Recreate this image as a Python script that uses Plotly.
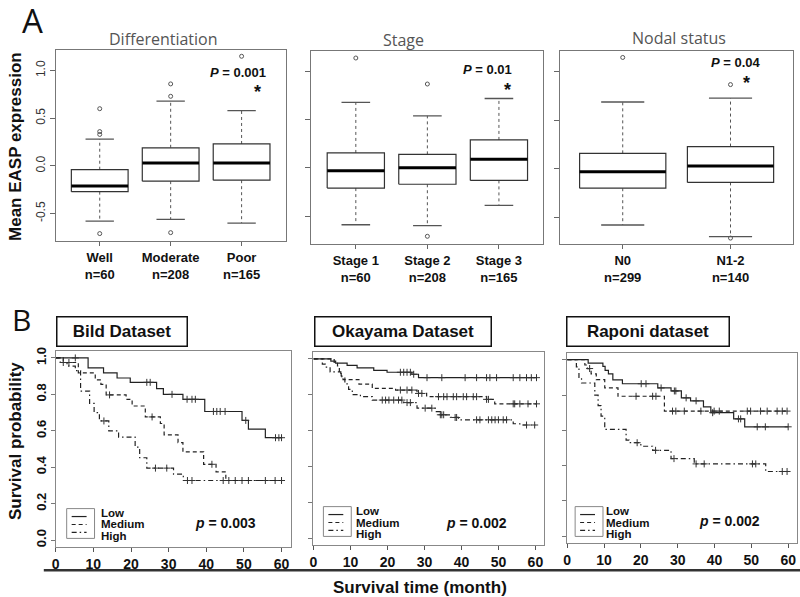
import plotly.graph_objects as go

W, H = 800, 597


def px(x):
    return x / W


def py(y):
    return 1 - y / H


# ---------------- Panel A data (box plot statistics) ----------------
diff_cats = ["Well", "Moderate", "Poor"]
diff_n = [60, 208, 165]
diff_lo = [-0.58, -0.56, -0.60]
diff_q1 = [-0.27, -0.16, -0.15]
diff_med = [-0.21, 0.03, 0.03]
diff_q3 = [-0.04, 0.19, 0.23]
diff_hi = [0.28, 0.68, 0.58]
diff_out = [[0.60, 0.36, 0.33, -0.71], [0.86, 0.73, -0.70], [1.15]]

stage_cats = ["Stage 1", "Stage 2", "Stage 3"]
stage_n = [60, 208, 165]
stage_lo = [-0.59, -0.60, -0.39]
stage_q1 = [-0.21, -0.17, -0.13]
stage_med = [-0.03, 0.00, 0.09]
stage_q3 = [0.155, 0.14, 0.29]
stage_hi = [0.68, 0.54, 0.72]
stage_out = [[1.14], [0.87, -0.71], []]

nodal_cats = ["N0", "N1-2"]
nodal_n = [299, 140]
nodal_lo = [-0.58, -0.70]
nodal_q1 = [-0.20, -0.14]
nodal_med = [-0.03, 0.03]
nodal_q3 = [0.16, 0.23]
nodal_hi = [0.69, 0.73]
nodal_out = [[1.15], [0.87, -0.715]]

a_yticks = [-0.5, 0.0, 0.5, 1.0]
a_yticktext = ["-0.5", "0.0", "0.5", "1.0"]

# ---------------- Panel B data (Kaplan-Meier steps) ----------------
bild_low_t = [0, 8.6, 12.7, 16.3, 19.8, 26.8, 28.6, 33.8, 39.6, 49.5, 51.2, 55.7]
bild_low_s = [1.0, 0.945, 0.918, 0.89, 0.866, 0.832, 0.80, 0.773, 0.706, 0.657, 0.609, 0.562]
bild_low_c = [5.2, 24.2, 25.1, 30.9, 34.9, 36.2, 37.1, 41.9, 42.8, 43.7, 45.0, 50.5, 58.4, 59.3, 60.0]

bild_med_t = [0, 2.0, 6.0, 10.5, 12.0, 13.4, 18.7, 20.3, 23.8, 27.8, 28.8, 32.5, 33.8, 39.3, 42.6, 45.2]
bild_med_s = [1.0, 0.975, 0.918, 0.88, 0.855, 0.797, 0.773, 0.736, 0.676, 0.64, 0.578, 0.535, 0.484, 0.416, 0.374, 0.327]
bild_med_c = [3.5, 14.3, 25.6, 41.5, 46.0, 47.7, 49.5, 51.2, 55.7, 58.3, 60.0]

bild_high_t = [0, 1.2, 3.0, 5.2, 6.6, 9.0, 10.2, 11.6, 14.1, 16.7, 21.1, 22.3, 24.2, 31.3, 33.9]
bild_high_s = [1.0, 0.975, 0.955, 0.93, 0.818, 0.75, 0.70, 0.654, 0.60, 0.565, 0.51, 0.452, 0.395, 0.362, 0.327]
bild_high_c = [2.0, 12.8, 26.5, 29.5, 35.0, 36.2, 44.5]

oka_low_t = [0, 4.7, 6.0, 9.1, 11.8, 16.3, 19.9, 26.6, 28.4]
oka_low_s = [1.0, 0.987, 0.976, 0.963, 0.95, 0.936, 0.925, 0.914, 0.895]
oka_low_c = [23.5, 24.4, 25.3, 26.2, 27.1, 30.7, 34.7, 41.0, 44.1, 46.8, 47.7, 49.5,
             54.0, 55.8, 57.6, 58.9, 60.3]

oka_med_t = [0, 5.6, 6.5, 7.0, 7.5, 8.0, 12.3, 15.9, 22.2, 28.0, 30.6, 46.8, 49.0]
oka_med_s = [1.0, 0.98, 0.96, 0.93, 0.905, 0.884, 0.859, 0.835, 0.826, 0.807, 0.789, 0.774, 0.749]
oka_med_c = [23.5, 25.3, 26.6, 28.4, 29.3, 33.8, 35.2, 36.1, 37.8, 38.7, 40.5, 41.4, 43.2,
             44.1, 46.8, 47.3, 54.0, 54.4, 55.8, 58.0, 60.3]

oka_high_t = [0, 2.4, 3.2, 4.5, 7.4, 8.5, 9.5, 10.5, 12.7, 15.9, 24.4, 28.0, 32.9, 34.3, 37.0, 39.2, 54.0, 55.8]
oka_high_s = [1.0, 0.97, 0.954, 0.927, 0.90, 0.86, 0.83, 0.80, 0.789, 0.77, 0.756, 0.725, 0.706,
              0.688, 0.673, 0.66, 0.638, 0.631]
oka_high_c = [18.6, 19.5, 20.4, 21.7, 23.0, 23.9, 25.3, 26.2, 30.2, 32.0, 34.3, 34.7, 35.2, 38.3,
              38.7, 44.1, 45.0, 47.3, 48.2, 49.1, 50.0, 51.3, 52.2, 57.6, 59.8]

rap_low_t = [0, 5.7, 9.7, 10.3, 11.2, 12.4, 15.0, 24.6, 28.2, 31.0, 33.5, 37.0, 39.0, 45.2, 48.2]
rap_low_s = [1.0, 0.981, 0.962, 0.94, 0.92, 0.886, 0.864, 0.84, 0.823, 0.784, 0.767, 0.733, 0.70, 0.665, 0.62]
rap_low_c = [20.1, 21.4, 25.5, 29.1, 29.5, 32.3, 35.0, 39.5, 46.5, 47.1, 51.6, 53.8, 60.0]

rap_med_t = [0, 4.8, 5.5, 6.5, 7.9, 10.2, 13.8, 26.4]
rap_med_s = [1.0, 0.97, 0.95, 0.92, 0.887, 0.84, 0.793, 0.709]
rap_med_c = [6.1, 18.7, 23.2, 24.1, 28.6, 29.5, 31.8, 36.3, 39.9, 41.3, 48.9, 49.8, 52.5,
             54.3, 57.0, 58.4, 59.7]

rap_high_t = [0, 2.5, 3.2, 3.9, 7.5, 8.4, 9.2, 10.2, 16.0, 16.8, 20.0, 23.2, 28.2, 34.5, 53.9]
rap_high_s = [1.0, 0.96, 0.90, 0.868, 0.80, 0.74, 0.68, 0.605, 0.545, 0.53, 0.51, 0.487, 0.44, 0.41, 0.367]
rap_high_c = [19.0, 24.0, 29.0, 35.0, 37.2, 50.3, 51.2, 58.4, 59.7]

b_xticks = [0, 10, 20, 30, 40, 50, 60]
b_yticks = [0.0, 0.2, 0.4, 0.6, 0.8, 1.0]
group_names = ["Low", "Medium", "High"]

FONT = "Liberation Sans, Arial, sans-serif"
DASH_MED = "4px,3px"
DASH_HIGH = "5px,3px,1.5px,3px"
dashes = ["solid", DASH_MED, DASH_HIGH]

fig = go.Figure()


def add_boxes(xa, ya, lo, q1, med, q3, hi, outs):
    for i in range(len(q1)):
        x = i + 1
        fig.add_trace(go.Scatter(
            x=[x, x, None, x, x], y=[q3[i], hi[i], None, q1[i], lo[i]], mode="lines",
            line=dict(color="#555", width=1, dash="3px,3px"), xaxis=xa, yaxis=ya,
            showlegend=False, hoverinfo="skip"))
        fig.add_trace(go.Scatter(
            x=[x - 0.2, x + 0.2, None, x - 0.2, x + 0.2], y=[hi[i], hi[i], None, lo[i], lo[i]],
            mode="lines", line=dict(color="#555", width=1.3), xaxis=xa, yaxis=ya,
            showlegend=False, hoverinfo="skip"))
        fig.add_trace(go.Scatter(
            x=[x - 0.4, x + 0.4, x + 0.4, x - 0.4, x - 0.4],
            y=[q1[i], q1[i], q3[i], q3[i], q1[i]], mode="lines", fill="toself",
            fillcolor="white", line=dict(color="#333", width=1.2), xaxis=xa, yaxis=ya,
            showlegend=False, hoverinfo="skip"))
        fig.add_trace(go.Scatter(
            x=[x - 0.4, x + 0.4], y=[med[i], med[i]], mode="lines",
            line=dict(color="black", width=3), xaxis=xa, yaxis=ya,
            showlegend=False, hoverinfo="skip"))
        if outs[i]:
            fig.add_trace(go.Scatter(
                x=[x] * len(outs[i]), y=outs[i], mode="markers",
                marker=dict(symbol="circle-open", size=4, color="#555", line=dict(width=1)),
                xaxis=xa, yaxis=ya, showlegend=False, hoverinfo="skip"))


add_boxes("x", "y", diff_lo, diff_q1, diff_med, diff_q3, diff_hi, diff_out)
add_boxes("x2", "y2", stage_lo, stage_q1, stage_med, stage_q3, stage_hi, stage_out)
add_boxes("x3", "y3", nodal_lo, nodal_q1, nodal_med, nodal_q3, nodal_hi, nodal_out)


def step_at(ts, ss, t):
    v = ss[0]
    for ti, si in zip(ts, ss):
        if ti <= t:
            v = si
    return v


def add_km(xa, ya, ts, ss, cs, dash):
    end = max(60.0, max(cs) if cs else 60.0)
    fig.add_trace(go.Scatter(
        x=list(ts) + [end], y=list(ss) + [ss[-1]], mode="lines",
        line=dict(color="#222", width=1.2, dash=dash, shape="hv"),
        xaxis=xa, yaxis=ya, showlegend=False, hoverinfo="skip"))
    fig.add_trace(go.Scatter(
        x=cs, y=[step_at(ts, ss, c) for c in cs], mode="markers",
        marker=dict(symbol="cross-thin", size=5, color="#333", line=dict(width=1, color="#333")),
        xaxis=xa, yaxis=ya, showlegend=False, hoverinfo="skip"))


km_sets = [
    ("x4", "y4", [(bild_low_t, bild_low_s, bild_low_c), (bild_med_t, bild_med_s, bild_med_c),
                  (bild_high_t, bild_high_s, bild_high_c)]),
    ("x5", "y5", [(oka_low_t, oka_low_s, oka_low_c), (oka_med_t, oka_med_s, oka_med_c),
                  (oka_high_t, oka_high_s, oka_high_c)]),
    ("x6", "y6", [(rap_low_t, rap_low_s, rap_low_c), (rap_med_t, rap_med_s, rap_med_c),
                  (rap_high_t, rap_high_s, rap_high_c)]),
]
for xa, ya, groups in km_sets:
    for (ts, ss, cs), d in zip(groups, dashes):
        add_km(xa, ya, ts, ss, cs, d)

# ---------------- Axes ----------------
frame_a = dict(showline=True, mirror=True, linecolor="#777", linewidth=1,
               showgrid=False, zeroline=False)


def a_xaxis(x0, x1, rng, cats, ns, anchor):
    return dict(domain=[px(x0), px(x1)], range=rng, tickvals=list(range(1, len(cats) + 1)),
                ticktext=[f"<b>{c}</b><br><b>n={n}</b>" for c, n in zip(cats, ns)],
                ticks="outside", ticklen=4, tickcolor="#666",
                tickfont=dict(family=FONT, size=13, color="#111"), anchor=anchor, **frame_a)


def a_yaxis(y0, y1, rng, labels, anchor):
    return dict(domain=[py(y1), py(y0)], range=rng, tickvals=a_yticks, ticktext=a_yticktext,
                showticklabels=labels, tickangle=-90, ticks="outside", ticklen=5,
                tickcolor="#666", tickfont=dict(family=FONT, size=12, color="#333"),
                anchor=anchor, **frame_a)


frame_b = dict(showline=True, mirror=True, linecolor="#888", linewidth=1,
               showgrid=False, zeroline=False)


def b_xaxis(x0, x1, anchor):
    return dict(domain=[px(x0), px(x1)], range=[0, 62.4], tickvals=b_xticks,
                ticks="outside", ticklen=4, tickcolor="#555",
                tickfont=dict(family=FONT, size=14, color="#111", weight="bold"),
                anchor=anchor, **frame_b)


def b_yaxis(y0, y1, labels, anchor):
    return dict(domain=[py(y1), py(y0)], range=[-0.04, 1.04], tickvals=b_yticks,
                ticktext=[f"{v:.1f}" for v in b_yticks], showticklabels=labels,
                tickangle=-90, ticks="outside", ticklen=4, tickcolor="#777",
                tickfont=dict(family=FONT, size=13, color="#111", weight="bold"),
                anchor=anchor, **frame_b)


fig.update_layout(
    xaxis=a_xaxis(52, 283, [0.38, 3.62], diff_cats, diff_n, "y"),
    yaxis=a_yaxis(46, 239, [-0.792, 1.219], True, "x"),
    xaxis2=a_xaxis(309, 542, [0.38, 3.62], stage_cats, stage_n, "y2"),
    yaxis2=a_yaxis(47, 242, [-0.794, 1.216], False, "x2"),
    xaxis3=a_xaxis(559, 793, [0.42, 2.58], nodal_cats, nodal_n, "y3"),
    yaxis3=a_yaxis(47, 242, [-0.78, 1.22], False, "x3"),
    xaxis4=b_xaxis(52, 288, "y4"),
    yaxis4=b_yaxis(349, 547, True, "x4"),
    xaxis5=b_xaxis(311, 543, "y5"),
    yaxis5=b_yaxis(350, 545, False, "x5"),
    xaxis6=b_xaxis(566, 797, "y6"),
    yaxis6=b_yaxis(351, 543, False, "x6"),
)

# ---------------- Annotations & decorations ----------------
ann = []
shapes = []


def text(x, y, t, size=13, color="#111", family=FONT, angle=0, xanchor="center", **kw):
    ann.append(dict(x=px(x), y=py(y), xref="paper", yref="paper", text=t, showarrow=False,
                    font=dict(family=family, size=size, color=color), textangle=angle,
                    xanchor=xanchor, yanchor="middle", **kw))


# panel letters
text(29, 17, "A", size=33, color="#111", family="Open Sans, sans-serif")
text(18, 318, "B", size=30, color="#111", family="Open Sans, sans-serif")

# panel A titles
text(160, 35, "Differentiation", size=16, color="#555", family="Open Sans, sans-serif")
text(402, 36, "Stage", size=16, color="#555", family="Open Sans, sans-serif")
text(678, 34, "Nodal status", size=16, color="#555", family="Open Sans, sans-serif")

# p-values panel A
text(235, 69, "<b><i>P</i> = 0.001</b>", size=13)
text(255, 89, "<b>*</b>", size=18)
text(486, 66, "<b><i>P</i> = 0.01</b>", size=13)
text(506, 87, "<b>*</b>", size=18)
text(736, 59, "<b><i>P</i> = 0.04</b>", size=13)
text(746, 80, "<b>*</b>", size=18)

# axis titles
text(11, 143, "<b>Mean EASP expression</b>", size=17, angle=-90)
text(11, 440, "<b>Survival probability</b>", size=17, angle=-90)
text(418, 587, "<b>Survival time (month)</b>", size=17)

# dataset title boxes
for cx, bw, label in [(119, 132, "Bild Dataset"), (401, 178, "Okayama Dataset"),
                      (647, 164, "Raponi dataset")]:
    ann.append(dict(x=px(cx), y=py(329.5), xref="paper", yref="paper",
                    text=f"<b>{label}</b>", showarrow=False,
                    font=dict(family=FONT, size=17, color="#111"),
                    xanchor="center", yanchor="middle", bordercolor="#111", borderwidth=1.5,
                    borderpad=3, bgcolor="white", width=bw - 9, height=31 - 9))

# p-values panel B
text(223, 523, "<b><i>p</i> = 0.003</b>", size=14)
text(475, 522, "<b><i>p</i> = 0.002</b>", size=14)
text(729, 520, "<b><i>p</i> = 0.002</b>", size=14)

# manual legends
for bx, by, tx in [(63, 508, 95), (321, 506, 352), (574, 506, 603)]:
    shapes.append(dict(type="rect", xref="paper", yref="paper", x0=px(bx), x1=px(bx + 28),
                       y0=py(by + 30), y1=py(by), line=dict(color="#888", width=1)))
    for k, (name, d) in enumerate(zip(group_names, dashes)):
        ly = by + 8 + 8 * k
        shapes.append(dict(type="line", xref="paper", yref="paper", x0=px(bx + 5),
                           x1=px(bx + 20), y0=py(ly), y1=py(ly),
                           line=dict(color="#222", width=1.2, dash=d)))
        text(tx, by + 4 + 12 * k, f"<b>{name}</b>", size=11.5, xanchor="left")

# bottom rule under panel B
shapes.append(dict(type="line", xref="paper", yref="paper", x0=px(40), x1=px(800),
                   y0=py(570), y1=py(570), line=dict(color="#333", width=2.5)))

fig.update_layout(
    width=W, height=H, margin=dict(l=0, r=0, t=0, b=0),
    paper_bgcolor="white", plot_bgcolor="white",
    annotations=ann, shapes=shapes, showlegend=False,
    font=dict(family=FONT),
)

fig.write_html(
    "out.html",
    config={"displayModeBar": False},
    post_script="document.body.style.margin='0';document.body.style.padding='0';"
                "document.body.style.overflow='hidden';",
)
